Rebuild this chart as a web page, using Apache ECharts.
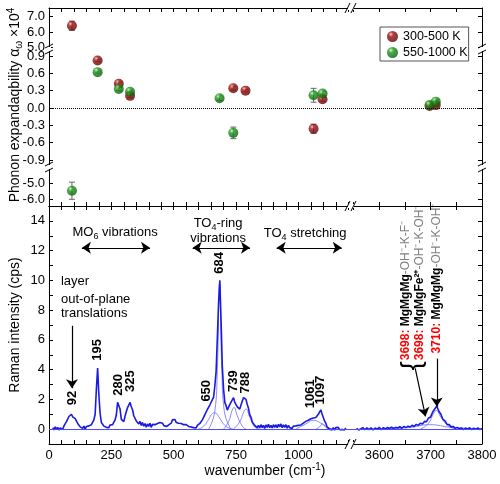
<!DOCTYPE html>
<html>
<head>
<meta charset="utf-8">
<script src="https://cdn.jsdelivr.net/npm/echarts@6.0.0/dist/echarts.min.js"></script>
<style>html,body{margin:0;padding:0;background:#fff}#main{width:500px;height:484px}</style>
</head>
<body>
<div id="main"></div>
<script>
var FONT = '"Liberation Sans", Arial, sans-serif';

// phonon expandability (x10^4), two temperature ranges
var redWn = [92, 195, 280, 325, 739, 788, 1061, 1097, 3698, 3710];
var redAlpha = [6.4, 0.82, 0.42, 0.21, 0.34, 0.30, -0.36, 0.15, 0.035, 0.05];
var redErr = [0.3, 0.02, 0.03, 0.03, 0.03, 0.02, 0.08, 0.03, 0.02, 0.02];
var greenWn = [92, 195, 280, 325, 684, 739, 1061, 1097, 3698, 3710];
var greenAlpha = [-5.45, 0.62, 0.33, 0.28, 0.17, -0.43, 0.22, 0.25, 0.05, 0.11];
var greenErr = [0.55, 0.02, 0.03, 0.03, 0.04, 0.1, 0.12, 0.04, 0.02, 0.03];

// raman spectrum, low range: 15..1190 cm-1, step 5
var specLStart = 15, specLStep = 5;
var specL = [
  0.10, -0.05, 0.15, -0.02, 0.12, -0.06, 0.08, 0.18, -0.03, 0.22, 0.18, 0.50, 0.55, 0.85, 0.80, 1.00, 0.82, 0.95, 0.70, 0.62,
  0.38, 0.40, 0.15, 0.25, 0.05, 0.20, 0.00, 0.18, 0.05, 0.22, 0.15, 0.30, 0.28, 0.62, 1.00, 2.70, 4.10, 2.30, 1.05, 0.45,
  0.42, 0.20, 0.28, 0.12, 0.25, 0.10, 0.28, 0.15, 0.30, 0.28, 0.62, 0.95, 1.80, 1.85, 1.35, 0.65, 0.60, 0.50, 0.88, 1.00,
  1.45, 1.55, 1.80, 1.50, 1.30, 0.90, 0.82, 0.55, 0.62, 0.35, 0.52, 0.25, 0.45, 0.20, 0.38, 0.12, 0.35, 0.18, 0.40, 0.12,
  0.32, 0.22, 0.30, 0.28, 0.38, 0.30, 0.45, 0.35, 0.40, 0.25, 0.35, 0.18, 0.30, 0.28, 0.38, 0.40, 0.62, 0.52, 0.65, 0.45,
  0.55, 0.40, 0.50, 0.38, 0.48, 0.30, 0.42, 0.30, 0.35, 0.18, 0.30, 0.15, 0.25, 0.10, 0.22, 0.08, 0.25, 0.18, 0.38, 0.40,
  0.62, 0.65, 0.98, 1.00, 1.32, 1.35, 1.62, 1.65, 1.98, 2.15, 2.90, 3.85, 6.10, 8.50, 10.0, 7.30, 4.20, 2.70, 1.80, 1.58,
  1.28, 1.48, 1.50, 1.82, 1.90, 2.12, 1.80, 1.75, 1.50, 1.50, 1.35, 1.62, 1.75, 2.12, 2.05, 2.00, 1.65, 1.40, 0.95, 0.80,
  0.48, 0.45, 0.25, 0.28, 0.10, 0.25, 0.08, 0.30, 0.10, 0.25, 0.05, 0.28, 0.12, 0.32, 0.10, 0.25, 0.08, 0.30, 0.12, 0.28,
  0.10, 0.32, 0.15, 0.35, 0.10, 0.28, 0.12, 0.30, 0.06, 0.25, 0.10, 0.22, 0.05, 0.20, 0.08, 0.22, 0.10, 0.25, 0.12, 0.28,
  0.25, 0.40, 0.35, 0.52, 0.42, 0.60, 0.52, 0.70, 0.58, 0.75, 0.70, 0.78, 0.82, 1.00, 0.88, 1.30, 1.02, 0.90, 0.55, 0.40,
  0.15, 0.14, 0.00, 0.12, -0.05, 0.10, -0.06, 0.10, -0.02, 0.12, -0.04, 0.09, -0.02, 0.11, -0.05, 0.08
];
// raman spectrum, OH range: 3556..3800 cm-1, step 4
var specRStart = 3556, specRStep = 4;
var specR = [
  0.06, -0.06, 0.02, 0.10, -0.04, 0.08, -0.03, 0.09, -0.05, 0.07,
  0.00, 0.12, -0.04, 0.10, 0.02, 0.11, 0.04, 0.13, 0.05, 0.12,
  0.08, 0.16, 0.06, 0.18, 0.10, 0.20, 0.14, 0.26, 0.18, 0.32,
  0.25, 0.40, 0.35, 0.52, 0.50, 0.75, 0.82, 1.15, 1.35, 1.55,
  1.20, 1.00, 0.65, 0.55, 0.32, 0.30, 0.15, 0.18, 0.05, 0.12,
  0.02, 0.08, -0.03, 0.07, 0.00, 0.09, -0.04, 0.06, -0.02, 0.08,
  -0.03, 0.05
];
// fitted components
var fitL = [
  [[600, 0], [620, 0.2], [640, 0.65], [655, 1.05], [665, 1.1], [680, 0.85], [700, 0.35], [720, 0.08], [740, 0]],
  [[640, 0], [665, 1.2], [675, 4.0], [684, 9.8], [693, 4.0], [703, 1.2], [730, 0]],
  [[700, 0], [720, 0.5], [735, 1.3], [742, 1.45], [755, 0.9], [775, 0.2], [790, 0]],
  [[740, 0], [765, 0.5], [782, 1.2], [790, 1.35], [805, 0.8], [825, 0.15], [845, 0]],
  [[990, 0], [1030, 0.35], [1060, 0.6], [1085, 0.45], [1120, 0.1], [1140, 0]],
  [[1070, 0], [1085, 0.15], [1097, 0.35], [1110, 0.12], [1125, 0]]
];
var fitR = [
  [[3600, 0], [3660, 0.12], [3698, 0.3], [3740, 0.12], [3800, 0.02]],
  [[3680, 0], [3695, 0.35], [3705, 1.0], [3711, 1.25], [3720, 0.8], [3735, 0.2], [3750, 0]]
];

// peak labels
var peakText = ['92', '195', '280', '325', '650', '684', '739', '788', '1061', '1097'];
var peakTextWn = [92, 195, 280, 325, 630, 684, 739, 788, 1047, 1087];
var peakTextY = [1.6, 4.6, 2.25, 2.5, 1.85, 10.45, 2.5, 2.4, 1.4, 1.65];

var bandNum = ['3698: ', '3698: ', '3710: '];
var bandSite = ['MgMgMg', 'MgMgFe²⁺', 'MgMgMg'];
var bandRest = ['-OH⁻-K-F⁻', '-OH⁻-K-OH⁻', '-OH⁻-K-OH⁻'];
var bandTextWn = [3651, 3679, 3712];
var bandTextY = [4.63, 4.63, 5.08];

var segX = [
  {left: 49, width: 302, min: 0, max: 1211,
   ticks: [0, 50, 100, 150, 200, 250, 300, 350, 400, 450, 500, 550, 600, 650, 700, 750, 800, 850, 900, 950, 1000, 1050, 1100, 1150, 1200],
   labels: [0, 250, 500, 750, 1000]},
  {left: 351, width: 131, min: 3545, max: 3800,
   ticks: [3550, 3600, 3650, 3700, 3750, 3800], labels: [3600, 3700, 3800]}
];
var segY = [
  {top: 8, height: 41, min: 4.9, max: 7.55, ticks: [5, 6, 7], labels: [5, 6, 7], dec: 1},
  {top: 49, height: 118, min: -1.02, max: 1.02, ticks: [-0.9, -0.6, -0.3, 0, 0.3, 0.6, 0.9], labels: [-0.9, -0.6, -0.3, 0, 0.3, 0.6, 0.9], dec: 1},
  {top: 167, height: 39, min: -6.43, max: -3.93, ticks: [-6, -5], labels: [-6, -5], dec: 1},
  {top: 206, height: 238, min: -1, max: 15, ticks: [0, 1, 2, 3, 4, 5, 6, 7, 8, 9, 10, 11, 12, 13, 14], labels: [0, 2, 4, 6, 8, 10, 12, 14], dec: 0}
];

var chart = echarts.init(document.getElementById('main'));

var grids = [], xAxes = [], yAxes = [], xIdx = [], yIdx = [];

function xAx(g, sx, pos, lab) {
  return {
    type: 'value', gridIndex: g, position: pos, min: sx.min, max: sx.max,
    axisLine: {show: true, onZero: false, lineStyle: {color: '#000', width: 1}},
    axisTick: {show: true, inside: true, length: 4, customValues: sx.ticks, lineStyle: {color: '#000'}},
    axisLabel: {show: lab, customValues: sx.labels, color: '#000', fontSize: 13, fontFamily: FONT, margin: 5,
      formatter: function (v) { return String(v); }},
    splitLine: {show: false}
  };
}
function yAx(g, sy, pos, lab) {
  return {
    type: 'value', gridIndex: g, position: pos, min: sy.min, max: sy.max,
    axisLine: {show: true, onZero: false, lineStyle: {color: '#000', width: 1}},
    axisTick: {show: true, inside: true, length: 4, customValues: sy.ticks, lineStyle: {color: '#000'}},
    axisLabel: {show: lab, customValues: sy.labels, color: '#000', fontSize: 13, fontFamily: FONT, margin: 4,
      formatter: function (v) { return Number(v).toFixed(sy.dec); }},
    splitLine: {show: false}
  };
}

segY.forEach(function (sy, r) {
  segX.forEach(function (sx, c) {
    var g = grids.length;
    grids.push({left: sx.left, width: sx.width, top: sy.top, height: sy.height});
    xIdx[g] = xAxes.length;
    if (r === 0) xAxes.push(xAx(g, sx, 'top', false));
    else if (r === 1) xAxes.push({type: 'value', gridIndex: g, min: sx.min, max: sx.max, show: false});
    else if (r === 2) xAxes.push(xAx(g, sx, 'bottom', false));
    else xAxes.push(xAx(g, sx, 'bottom', true));
    yIdx[g] = yAxes.length;
    yAxes.push(yAx(g, sy, c === 0 ? 'left' : 'right', c === 0));
  });
});
// top frame of the spectrum panel
[6, 7].forEach(function (g) {
  xAxes.push(xAx(g, segX[g % 2], 'top', false));
});

var redBall = {type: 'radial', x: 0.35, y: 0.3, r: 0.75,
  colorStops: [{offset: 0, color: '#f4c0c0'}, {offset: 0.3, color: '#a01010'}, {offset: 1, color: '#5a0000'}]};
var greenBall = {type: 'radial', x: 0.35, y: 0.3, r: 0.75,
  colorStops: [{offset: 0, color: '#d0f4d0'}, {offset: 0.3, color: '#1c9a1c'}, {offset: 1, color: '#0a560a'}]};

function errBar(params, api) {
  var x = api.value(0), y = api.value(1), e = api.value(2);
  var a = api.coord([x, y + e]), b = api.coord([x, y - e]);
  var st = {stroke: '#666', lineWidth: 1};
  return {type: 'group', children: [
    {type: 'line', shape: {x1: a[0], y1: a[1], x2: b[0], y2: b[1]}, style: st},
    {type: 'line', shape: {x1: a[0] - 3, y1: a[1], x2: a[0] + 3, y2: a[1]}, style: st},
    {type: 'line', shape: {x1: b[0] - 3, y1: b[1], x2: b[0] + 3, y2: b[1]}, style: st}
  ]};
}

var series = [];
function addPoints(name, wn, val, err, color) {
  for (var g = 0; g < 6; g++) {
    var sx = segX[g % 2], sy = segY[Math.floor(g / 2)];
    var pts = [], bars = [];
    wn.forEach(function (w, i) {
      if (w >= sx.min && w <= sx.max && val[i] >= sy.min && val[i] <= sy.max) {
        pts.push([w, val[i]]);
        bars.push([w, val[i], err[i]]);
      }
    });
    if (!pts.length) continue;
    series.push({type: 'custom', xAxisIndex: xIdx[g], yAxisIndex: yIdx[g], data: bars,
      renderItem: errBar, silent: true, z: 2});
    var s = {type: 'scatter', name: name, xAxisIndex: xIdx[g], yAxisIndex: yIdx[g], data: pts,
      symbolSize: 10, itemStyle: {color: color}, z: 3, silent: true};
    if (Math.floor(g / 2) === 1 && name === '300-500 K') {
      s.markLine = {silent: true, symbol: 'none', label: {show: false},
        lineStyle: {type: 'dotted', color: '#000', width: 1}, data: [{yAxis: 0}]};
    }
    series.push(s);
  }
}
addPoints('300-500 K', redWn, redAlpha, redErr, redBall);
addPoints('550-1000 K', greenWn, greenAlpha, greenErr, greenBall);

function specPairs(start, step, vals) {
  return vals.map(function (v, i) { return [start + i * step, v]; });
}
var arrowLine = {color: '#000', width: 1.2, type: 'solid'};
var specStyle = {color: '#1a1ae0', width: 1.6};
series.push({type: 'line', xAxisIndex: xIdx[6], yAxisIndex: yIdx[6], data: specPairs(specLStart, specLStep, specL),
  showSymbol: false, lineStyle: specStyle, z: 4, silent: true,
  markLine: {silent: true, symbol: ['none', 'arrow'], symbolSize: 9, label: {show: false}, lineStyle: arrowLine,
    data: [
      [{coord: [92, 6.95]}, {coord: [92, 2.75]}],
      [{coord: [132, 12.19], symbol: 'arrow'}, {coord: [405, 12.19]}],
      [{coord: [576, 12.19], symbol: 'arrow'}, {coord: [806, 12.19]}],
      [{coord: [913, 12.19], symbol: 'arrow'}, {coord: [1174, 12.19]}]
    ]}});
series.push({type: 'line', xAxisIndex: xIdx[7], yAxisIndex: yIdx[7], data: specPairs(specRStart, specRStep, specR),
  showSymbol: false, lineStyle: specStyle, z: 4, silent: true,
  markLine: {silent: true, symbol: ['none', 'arrow'], symbolSize: 9, label: {show: false}, lineStyle: arrowLine,
    data: [
      [{coord: [3670, 4.08]}, {coord: [3690, 0.85]}],
      [{coord: [3712, 4.74]}, {coord: [3712, 1.52]}]
    ]}});
var fitStyle = {color: '#6b6bff', width: 0.8};
fitL.forEach(function (d, i) {
  var s = {type: 'line', xAxisIndex: xIdx[6], yAxisIndex: yIdx[6], data: d, smooth: true,
    showSymbol: false, lineStyle: fitStyle, z: 3, silent: true};
  if (i === 0) s.markLine = {silent: true, symbol: 'none', label: {show: false}, lineStyle: {color: '#4a4aff', width: 1, type: 'solid'}, data: [{yAxis: 0}]};
  series.push(s);
});
fitR.forEach(function (d, i) {
  var s = {type: 'line', xAxisIndex: xIdx[7], yAxisIndex: yIdx[7], data: d, smooth: true,
    showSymbol: false, lineStyle: fitStyle, z: 3, silent: true};
  if (i === 0) s.markLine = {silent: true, symbol: 'none', label: {show: false}, lineStyle: {color: '#4a4aff', width: 1, type: 'solid'}, data: [{yAxis: 0}]};
  series.push(s);
});

chart.setOption({
  animation: false,
  backgroundColor: '#fff',
  grid: grids,
  xAxis: xAxes,
  yAxis: yAxes,
  legend: {
    data: ['300-500 K', '550-1000 K'], orient: 'vertical', left: 380, top: 27,
    borderColor: '#555', borderWidth: 1, padding: [3, 1, 2, 7], itemGap: 3,
    itemWidth: 11, itemHeight: 11, icon: 'circle', selectedMode: false,
    textStyle: {fontSize: 12.5, fontFamily: FONT, color: '#000'}
  },
  series: series
});

// annotations placed through the axes
var rich = {
  n: {fontSize: 13, fontFamily: FONT, fill: '#000', lineHeight: 17},
  s: {fontSize: 9, fontFamily: FONT, fill: '#000', verticalAlign: 'bottom'},
  p: {fontSize: 9, fontFamily: FONT, fill: '#000', verticalAlign: 'top'}
};
function px(g, x, y) {
  return chart.convertToPixel({xAxisIndex: xIdx[g], yAxisIndex: yIdx[g]}, [x, y]);
}
var gfx = [];
peakText.forEach(function (t, i) {
  var p = px(6, peakTextWn[i], peakTextY[i]);
  gfx.push({type: 'text', x: p[0], y: p[1], rotation: Math.PI / 2, silent: true,
    style: {text: t, fontSize: 13, fontWeight: 'bold', fontFamily: FONT, fill: '#000', align: 'left', verticalAlign: 'middle'}});
});
function ctext(g, x, y, txt, align) {
  var p = px(g, x, y);
  gfx.push({type: 'text', x: p[0], y: p[1], silent: true,
    style: {text: txt, rich: rich, align: align || 'center', verticalAlign: 'middle', fontSize: 13, fontFamily: FONT}});
}
ctext(6, 265, 13.2, '{n|MO}{s|6}{n| vibrations}');
ctext(6, 678, 13.8, '{n|TO}{s|4}{n|-ring}');
ctext(6, 678, 12.85, '{n|vibrations}');
ctext(6, 1027, 13.15, '{n|TO}{s|4}{n| stretching}');
ctext(6, 48, 9.92, '{n|layer}', 'left');
ctext(6, 48, 8.73, '{n|out-of-plane}', 'left');
ctext(6, 48, 7.79, '{n|translations}', 'left');

var bandRich = {
  r: {fontSize: 12, fontWeight: 'bold', fontFamily: FONT, fill: '#ff0000'},
  b: {fontSize: 12, fontWeight: 'bold', fontFamily: FONT, fill: '#000'},
  g: {fontSize: 12, fontFamily: FONT, fill: '#808080'}
};
bandNum.forEach(function (t, i) {
  var p = px(7, bandTextWn[i], bandTextY[i]);
  gfx.push({type: 'text', x: p[0], y: p[1], rotation: Math.PI / 2, silent: true,
    style: {text: '{r|' + t + '}{b|' + bandSite[i] + '}{g|' + bandRest[i] + '}', rich: bandRich,
      align: 'left', verticalAlign: 'middle'}});
});
var bp = px(7, 3665, 4.25);
gfx.push({type: 'text', x: bp[0], y: bp[1], rotation: Math.PI / 2, silent: true,
  style: {text: '{', fontSize: 28, fontFamily: FONT, fill: '#000', align: 'center', verticalAlign: 'middle'}});

// axis titles
gfx.push({type: 'text', x: 15, y: 105, rotation: Math.PI / 2, silent: true,
  style: {text: '{n|Phonon expandaqbility α}{s|ω}{n| ×10}{p|4}', rich: {
    n: {fontSize: 14, fontFamily: FONT, fill: '#000', lineHeight: 18},
    s: {fontSize: 10, fontFamily: FONT, fill: '#000', verticalAlign: 'bottom'},
    p: {fontSize: 10, fontFamily: FONT, fill: '#000', verticalAlign: 'top'}
  }, align: 'center', verticalAlign: 'middle'}});
gfx.push({type: 'text', x: 15, y: 325, rotation: Math.PI / 2, silent: true,
  style: {text: 'Raman intensity (cps)', fontSize: 14, fontFamily: FONT, fill: '#000', align: 'center', verticalAlign: 'middle'}});
gfx.push({type: 'text', x: 265, y: 471, silent: true,
  style: {text: '{n|wavenumber (cm}{p|-1}{n|)}', rich: {
    n: {fontSize: 14, fontFamily: FONT, fill: '#000', lineHeight: 18},
    p: {fontSize: 10, fontFamily: FONT, fill: '#000', verticalAlign: 'top'}
  }, align: 'center', verticalAlign: 'middle'}});

// axis break marks
var xBreak = segX[1].left;
var xFrames = [segY[0].top, segY[3].top, segY[3].top + segY[3].height];
xFrames.forEach(function (y) {
  gfx.push({type: 'rect', silent: true, shape: {x: xBreak - 3, y: y - 2, width: 6, height: 4}, style: {fill: '#fff'}, z: 100});
  gfx.push({type: 'line', silent: true, shape: {x1: xBreak - 6, y1: y + 5, x2: xBreak - 1, y2: y - 5}, style: {stroke: '#000', lineWidth: 1}, z: 101});
  gfx.push({type: 'line', silent: true, shape: {x1: xBreak, y1: y + 5, x2: xBreak + 5, y2: y - 5}, style: {stroke: '#000', lineWidth: 1}, z: 101});
});
var yBreaks = [segY[1].top, segY[2].top];
var yFrames = [segX[0].left, segX[1].left + segX[1].width];
yBreaks.forEach(function (y) {
  yFrames.forEach(function (x) {
    gfx.push({type: 'rect', silent: true, shape: {x: x - 2, y: y - 2, width: 4, height: 4}, style: {fill: '#fff'}, z: 100});
    gfx.push({type: 'line', silent: true, shape: {x1: x - 4, y1: y - 1, x2: x + 4, y2: y - 5}, style: {stroke: '#000', lineWidth: 1}, z: 101});
    gfx.push({type: 'line', silent: true, shape: {x1: x - 4, y1: y + 5, x2: x + 4, y2: y + 1}, style: {stroke: '#000', lineWidth: 1}, z: 101});
  });
});

chart.setOption({graphic: gfx});
</script>
</body>
</html>
